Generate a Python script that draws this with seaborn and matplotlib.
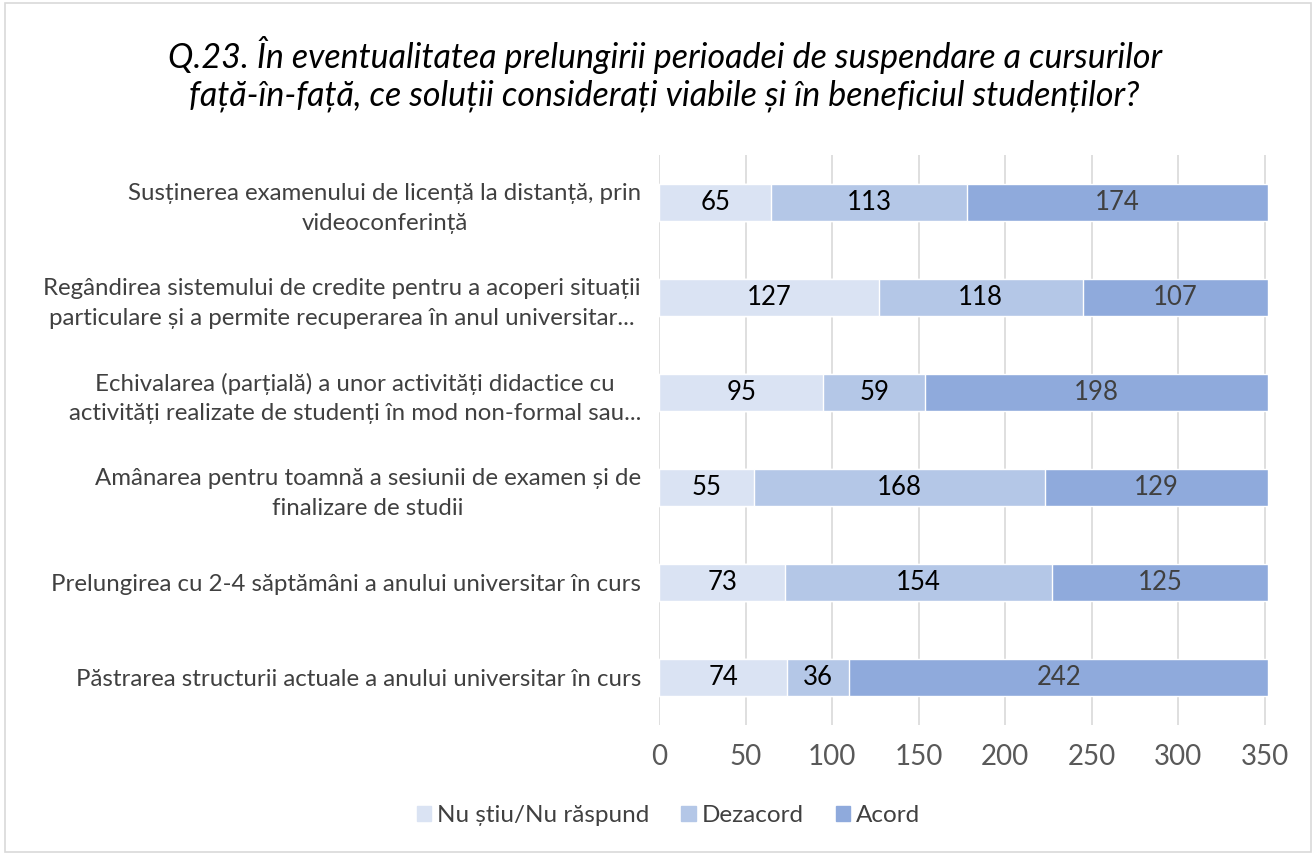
import pandas as pd
import numpy as np
import matplotlib.pyplot as plt
import seaborn as sns
from matplotlib.patches import Rectangle

# Date
categorii = [
    "Susținerea examenului de licență la distanță, prin\nvideoconferință",
    "Regândirea sistemului de credite pentru a acoperi situații\nparticulare și a permite recuperarea în anul universitar...",
    "Echivalarea (parțială) a unor activități didactice cu\nactivități realizate de studenți în mod non-formal sau...",
    "Amânarea pentru toamnă a sesiunii de examen și de\nfinalizare de studii",
    "Prelungirea cu 2-4 săptămâni a anului universitar în curs",
    "Păstrarea structurii actuale a anului universitar în curs",
]
nu_stiu = [65, 127, 95, 55, 73, 74]
dezacord = [113, 118, 59, 168, 154, 36]
acord = [174, 107, 198, 129, 125, 242]
serii = ["Nu știu/Nu răspund", "Dezacord", "Acord"]
culori = ["#DAE3F3", "#B4C7E7", "#8FAADC"]
x_ticks = [0, 50, 100, 150, 200, 250, 300, 350]

df = pd.DataFrame({"categorie": categorii, "Nu știu/Nu răspund": nu_stiu,
                   "Dezacord": dezacord, "Acord": acord})
df["c1"] = df["Nu știu/Nu răspund"]
df["c2"] = df["c1"] + df["Dezacord"]
df["c3"] = df["c2"] + df["Acord"]

sns.set_style("white")
plt.rcParams["font.family"] = ["Lato", "DejaVu Sans"]

fig = plt.figure(figsize=(13.16, 8.55), dpi=100)
ax = fig.add_axes([0.5008, 0.152, 0.4627, 0.667])

# Barele stivuite: se deseneaza totalurile cumulative de la cel mai mare la cel mai mic
for col, culoare in zip(["c3", "c2", "c1"], culori[::-1]):
    sns.barplot(data=df, x=col, y="categorie", color=culoare, width=0.39,
                saturation=1, ax=ax, orient="y")

# Etichete pe segmente
for i, row in df.iterrows():
    starts = [0, row["c1"], row["c2"]]
    vals = [row["Nu știu/Nu răspund"], row["Dezacord"], row["Acord"]]
    for j, (s, v) in enumerate(zip(starts, vals)):
        ax.text(s + v / 2, i, str(v), ha="center", va="center", fontsize=18.5,
                color="#404040" if j == 2 else "black")

ax.set_xlim(0, 352)
ax.set_xticks(x_ticks)
ax.tick_params(axis="x", labelsize=20, colors="#595959", length=0, pad=14)
ax.tick_params(axis="y", labelsize=17.3, colors="#404040", length=0, pad=13)
for lab in ax.get_yticklabels():
    lab.set_horizontalalignment("right")
    lab.set_multialignment("center")
    lab.set_linespacing(1.5)
ax.set_xlabel("")
ax.set_ylabel("")
ax.grid(axis="x", color="#D9D9D9", lw=1.2)
ax.set_axisbelow(True)
for sp in ax.spines.values():
    sp.set_visible(False)

fig.suptitle("Q.23. În eventualitatea prelungirii perioadei de suspendare a cursurilor\n"
             "față-în-față, ce soluții considerați viabile și în beneficiul studenților?",
             x=0.505, y=0.958, fontsize=24.5, style="italic", color="#000000",
             linespacing=1.2)

handles = [Rectangle((0, 0), 1, 1, color=c) for c in culori]
fig.legend(handles, serii, loc="center", bbox_to_anchor=(0.508, 0.046), ncol=3,
           frameon=False, fontsize=17.5, handlelength=0.6, handleheight=0.6,
           columnspacing=1.3, handletextpad=0.25, labelcolor="#404040")

fig.patches.append(Rectangle((0.004, 0.004), 0.992, 0.992, transform=fig.transFigure,
                             fill=False, edgecolor="#D9D9D9", lw=1.2))

fig.savefig("out.png", dpi=100)
